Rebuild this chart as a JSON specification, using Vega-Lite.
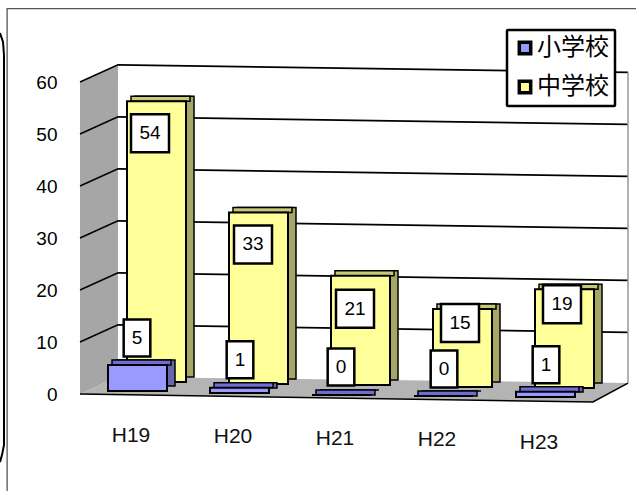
{
"$schema":"https://vega.github.io/schema/vega-lite/v6.json",
"width":636,"height":491,"padding":0,"autosize":{"type":"none"},
"background":"white",
"config":{"view":{"stroke":null},"font":"Liberation Sans"},
"datasets":{
"bars":[
{"period":"H19","series":"小学校","value":5},{"period":"H20","series":"小学校","value":1},{"period":"H21","series":"小学校","value":0},{"period":"H22","series":"小学校","value":0},{"period":"H23","series":"小学校","value":1},
{"period":"H19","series":"中学校","value":54},{"period":"H20","series":"中学校","value":33},{"period":"H21","series":"中学校","value":21},{"period":"H22","series":"中学校","value":15},{"period":"H23","series":"中学校","value":19}],
"wall":[{"u":0,"lo":0,"hi":60},{"u":6.93,"lo":3.27,"hi":63.3}],
"floor":[{"u":0,"lo":0,"hi":0},{"u":6.93,"lo":-0.14,"hi":3.27},{"u":93.6,"lo":-1.54,"hi":2.2},{"u":100,"lo":2.1,"hi":2.1}],
"grid":[
{"level":10,"u":0,"v":10},{"level":10,"u":6.93,"v":13.3},{"level":10,"u":100,"v":11.85},
{"level":20,"u":0,"v":20},{"level":20,"u":6.93,"v":23.3},{"level":20,"u":100,"v":21.85},
{"level":30,"u":0,"v":30},{"level":30,"u":6.93,"v":33.3},{"level":30,"u":100,"v":31.85},
{"level":40,"u":0,"v":40},{"level":40,"u":6.93,"v":43.3},{"level":40,"u":100,"v":41.85},
{"level":50,"u":0,"v":50},{"level":50,"u":6.93,"v":53.3},{"level":50,"u":100,"v":51.85},
{"level":60,"u":0,"v":60},{"level":60,"u":6.93,"v":63.3},{"level":60,"u":100,"v":61.85}],
"edge":[{"i":1,"u":0,"v":0},{"i":2,"u":93.6,"v":-1.54},{"i":3,"u":100,"v":2.1}],
"rightwall":[{"i":1,"u":100,"v":61.85},{"i":2,"u":100,"v":2.1}],
"frame":[{"i":1,"u":-13.3,"v":-18.65},{"i":2,"u":-13.3,"v":74.1},{"i":3,"u":101.5,"v":74.1}],
"curve":[{"i":1,"u":-14.6,"v":69.4},{"i":2,"u":-14.05,"v":67.7},{"i":3,"u":-13.87,"v":65.2},{"i":4,"u":-13.87,"v":-9.8},{"i":5,"u":-14.23,"v":-11.7},{"i":6,"u":-14.6,"v":-13.1}]
},
"layer":[
{"data":{"name":"wall"},"mark":{"type":"area","fill":"#a6a6a6"},
 "encoding":{"x":{"field":"u","type":"quantitative","axis":null,"scale":{"domain":[0,100],"range":[80,628],"nice":false,"zero":false}},
 "y":{"field":"lo","type":"quantitative","axis":null,"scale":{"domain":[0,60],"range":[394,82],"nice":false,"zero":false}},"y2":{"field":"hi"}}},
{"data":{"name":"floor"},"mark":{"type":"area","fill":"#b4b4b4"},
 "encoding":{"x":{"field":"u","type":"quantitative","axis":null,"scale":{"domain":[0,100],"range":[80,628],"nice":false,"zero":false}},
 "y":{"field":"lo","type":"quantitative","axis":null,"scale":{"domain":[0,60],"range":[394,82],"nice":false,"zero":false}},"y2":{"field":"hi"}}},
{"data":{"name":"grid"},"mark":{"type":"line","stroke":"black","strokeWidth":1.6},
 "encoding":{"x":{"field":"u","type":"quantitative","axis":null,"scale":{"domain":[0,100],"range":[80,628],"nice":false,"zero":false}},
 "y":{"field":"v","type":"quantitative","axis":null,"scale":{"domain":[0,60],"range":[394,82],"nice":false,"zero":false}},"detail":{"field":"level"}}},
{"data":{"name":"edge"},"mark":{"type":"line","stroke":"black","strokeWidth":1.6},
 "encoding":{"x":{"field":"u","type":"quantitative","axis":null,"scale":{"domain":[0,100],"range":[80,628],"nice":false,"zero":false}},
 "y":{"field":"v","type":"quantitative","axis":null,"scale":{"domain":[0,60],"range":[394,82],"nice":false,"zero":false}},"order":{"field":"i"}}},
{"data":{"name":"rightwall"},"mark":{"type":"line","stroke":"#999999","strokeWidth":1.5},
 "encoding":{"x":{"field":"u","type":"quantitative","axis":null,"scale":{"domain":[0,100],"range":[80,628],"nice":false,"zero":false}},
 "y":{"field":"v","type":"quantitative","axis":null,"scale":{"domain":[0,60],"range":[394,82],"nice":false,"zero":false}},"order":{"field":"i"}}},
{"data":{"name":"frame"},"mark":{"type":"line","stroke":"#555555","strokeWidth":1.3},
 "encoding":{"x":{"field":"u","type":"quantitative","axis":null,"scale":{"domain":[0,100],"range":[80,628],"nice":false,"zero":false}},
 "y":{"field":"v","type":"quantitative","axis":null,"scale":{"domain":[0,60],"range":[394,82],"nice":false,"zero":false}},"order":{"field":"i"}}},
{"data":{"name":"curve"},"mark":{"type":"line","stroke":"black","strokeWidth":2},
 "encoding":{"x":{"field":"u","type":"quantitative","axis":null,"scale":{"domain":[0,100],"range":[80,628],"nice":false,"zero":false}},
 "y":{"field":"v","type":"quantitative","axis":null,"scale":{"domain":[0,60],"range":[394,82],"nice":false,"zero":false}},"order":{"field":"i"}}},

{"data":{"name":"bars"},"transform":[{"filter":"datum.series=='中学校'"}],
 "mark":{"type":"bar","width":59,"xOffset":17.5,"fill":"#a6a666","stroke":"black","strokeWidth":1.5,
  "yOffset":{"expr":"[-12,-10,-9,-7,-6][indexof(['H19','H20','H21','H22','H23'],datum.period)]-5"},
  "y2Offset":{"expr":"[-12,-10,-9,-7,-6][indexof(['H19','H20','H21','H22','H23'],datum.period)]-5"}},
 "encoding":{"x":{"field":"period","type":"nominal","axis":null,"sort":null,"scale":{"type":"band","domain":["H19","H20","H21","H22","H23"],"range":[96,606],"padding":0}},
 "y":{"field":"value","type":"quantitative","stack":null,"scale":{"domain":[0,60],"range":[394,82],"nice":false,"zero":false},
  "axis":{"title":null,"domain":false,"ticks":false,"grid":false,"offset":-66,"labelPadding":9,"labelFontSize":19,"labelColor":"black","labelFont":"Liberation Sans","values":[0,10,20,30,40,50,60]}},"y2":{"datum":0}}},

{"data":{"name":"bars"},"transform":[{"filter":"datum.series=='中学校'"}],
 "mark":{"type":"bar","width":59,"xOffset":13.5,"fill":"#c8c87a","stroke":"black","strokeWidth":1.5,
  "yOffset":{"expr":"[-12,-10,-9,-7,-6][indexof(['H19','H20','H21','H22','H23'],datum.period)]-5"},
  "y2Offset":{"expr":"[-12,-10,-9,-7,-6][indexof(['H19','H20','H21','H22','H23'],datum.period)]"}},
 "encoding":{"x":{"field":"period","type":"nominal","axis":null,"sort":null,"scale":{"type":"band","domain":["H19","H20","H21","H22","H23"],"range":[96,606],"padding":0}},
 "y":{"field":"value","type":"quantitative","stack":null,"axis":null,"scale":{"domain":[0,60],"range":[394,82],"nice":false,"zero":false}},"y2":{"field":"value"}}},

{"data":{"name":"bars"},"transform":[{"filter":"datum.series=='中学校'"}],
 "mark":{"type":"bar","width":59,"xOffset":9.5,"stroke":"black","strokeWidth":2,
  "yOffset":{"expr":"[-12,-10,-9,-7,-6][indexof(['H19','H20','H21','H22','H23'],datum.period)]"},
  "y2Offset":{"expr":"[-12,-10,-9,-7,-6][indexof(['H19','H20','H21','H22','H23'],datum.period)]"}},
 "encoding":{"x":{"field":"period","type":"nominal","axis":null,"sort":null,"scale":{"type":"band","domain":["H19","H20","H21","H22","H23"],"range":[96,606],"padding":0}},
 "y":{"field":"value","type":"quantitative","stack":null,"axis":null,"scale":{"domain":[0,60],"range":[394,82],"nice":false,"zero":false}},"y2":{"datum":0},
 "color":{"field":"series","type":"nominal","scale":{"domain":["小学校","中学校"],"range":["#9999ff","#ffff99"]},
  "legend":{"title":null,"orient":"none","legendX":507,"legendY":30,"fillColor":"white","strokeColor":"black","padding":6,"symbolType":"square","symbolSize":130,"symbolStrokeColor":"black","symbolStrokeWidth":3.5,"labelFont":"Noto Sans CJK JP","labelFontSize":24,"labelColor":"black","rowPadding":13,"labelOffset":0,"cornerRadius":1,"symbolOpacity":1,"encode":{"legend":{"update":{"strokeWidth":{"value":2.5}}}}}}}},

{"data":{"name":"bars"},"transform":[{"filter":"datum.series=='小学校'"}],
 "mark":{"type":"bar","width":59,"xOffset":-1.5,"fill":"#6666aa","stroke":"black","strokeWidth":1.5,
  "yOffset":{"expr":"[-3,-1,1,2,3][indexof(['H19','H20','H21','H22','H23'],datum.period)]-5"},
  "y2Offset":{"expr":"[-3,-1,1,2,3][indexof(['H19','H20','H21','H22','H23'],datum.period)]-5"}},
 "encoding":{"x":{"field":"period","type":"nominal","axis":null,"sort":null,"scale":{"type":"band","domain":["H19","H20","H21","H22","H23"],"range":[96,606],"padding":0}},
 "y":{"field":"value","type":"quantitative","stack":null,"axis":null,"scale":{"domain":[0,60],"range":[394,82],"nice":false,"zero":false}},"y2":{"datum":0}}},

{"data":{"name":"bars"},"transform":[{"filter":"datum.series=='小学校'"}],
 "mark":{"type":"bar","width":59,"xOffset":-5.5,"fill":"#6e6ed2","stroke":"black","strokeWidth":1.5,
  "yOffset":{"expr":"[-3,-1,1,2,3][indexof(['H19','H20','H21','H22','H23'],datum.period)]-5"},
  "y2Offset":{"expr":"[-3,-1,1,2,3][indexof(['H19','H20','H21','H22','H23'],datum.period)]"}},
 "encoding":{"x":{"field":"period","type":"nominal","axis":null,"sort":null,"scale":{"type":"band","domain":["H19","H20","H21","H22","H23"],"range":[96,606],"padding":0}},
 "y":{"field":"value","type":"quantitative","stack":null,"axis":null,"scale":{"domain":[0,60],"range":[394,82],"nice":false,"zero":false}},"y2":{"field":"value"}}},

{"data":{"name":"bars"},"transform":[{"filter":"datum.series=='小学校'"}],
 "mark":{"type":"bar","width":59,"xOffset":-9.5,"stroke":"black","strokeWidth":2,
  "yOffset":{"expr":"[-3,-1,1,2,3][indexof(['H19','H20','H21','H22','H23'],datum.period)]"},
  "y2Offset":{"expr":"[-3,-1,1,2,3][indexof(['H19','H20','H21','H22','H23'],datum.period)]"}},
 "encoding":{"x":{"field":"period","type":"nominal","axis":null,"sort":null,"scale":{"type":"band","domain":["H19","H20","H21","H22","H23"],"range":[96,606],"padding":0}},
 "y":{"field":"value","type":"quantitative","stack":null,"axis":null,"scale":{"domain":[0,60],"range":[394,82],"nice":false,"zero":false}},"y2":{"datum":0},
 "color":{"field":"series","type":"nominal","scale":{"domain":["小学校","中学校"],"range":["#9999ff","#ffff99"]},
  "legend":{"title":null,"orient":"none","legendX":507,"legendY":30,"fillColor":"white","strokeColor":"black","padding":6,"symbolType":"square","symbolSize":130,"symbolStrokeColor":"black","symbolStrokeWidth":3.5,"labelFont":"Noto Sans CJK JP","labelFontSize":24,"labelColor":"black","rowPadding":13,"labelOffset":0,"cornerRadius":1,"symbolOpacity":1,"encode":{"legend":{"update":{"strokeWidth":{"value":2.5}}}}}}}},

{"data":{"name":"bars"},"transform":[{"filter":"datum.series=='中学校'"}],
 "mark":{"type":"point","filled":true,"opacity":1,"fill":"white","stroke":"black","strokeWidth":2.5,"size":1444,"shape":"M-1,-1H1V1H-1Z",
  "xOffset":{"expr":"[3,4,4,7,7][indexof(['H19','H20','H21','H22','H23'],datum.period)]"},
  "yOffset":{"expr":"[20,22,24,7,9][indexof(['H19','H20','H21','H22','H23'],datum.period)]"}},
 "encoding":{"x":{"field":"period","type":"nominal","axis":null,"sort":null,"scale":{"type":"band","domain":["H19","H20","H21","H22","H23"],"range":[96,606],"padding":0}},
 "y":{"field":"value","type":"quantitative","axis":null,"scale":{"domain":[0,60],"range":[394,82],"nice":false,"zero":false}}}},
{"data":{"name":"bars"},"transform":[{"filter":"datum.series=='中学校'"}],
 "mark":{"type":"text","fontSize":19,"font":"Liberation Sans","fill":"black","align":"center","baseline":"middle",
  "xOffset":{"expr":"[3,4,4,7,7][indexof(['H19','H20','H21','H22','H23'],datum.period)]"},
  "yOffset":{"expr":"[20,22,24,7,9][indexof(['H19','H20','H21','H22','H23'],datum.period)]"}},
 "encoding":{"x":{"field":"period","type":"nominal","axis":null,"sort":null,"scale":{"type":"band","domain":["H19","H20","H21","H22","H23"],"range":[96,606],"padding":0}},
 "y":{"field":"value","type":"quantitative","axis":null,"scale":{"domain":[0,60],"range":[394,82],"nice":false,"zero":false}},
 "text":{"field":"value","type":"quantitative"}}},
{"data":{"name":"bars"},"transform":[{"filter":"datum.series=='小学校'"}],
 "mark":{"type":"point","filled":true,"opacity":1,"fill":"white","stroke":"black","strokeWidth":2.5,"size":1369,"shape":"M-.72,-1H.72V1H-.72Z",
  "xOffset":{"expr":"[-10,-9,-10,-9,-9][indexof(['H19','H20','H21','H22','H23'],datum.period)]"},
  "yOffset":{"expr":"[-30,-29,-27,-25,-24][indexof(['H19','H20','H21','H22','H23'],datum.period)]"}},
 "encoding":{"x":{"field":"period","type":"nominal","axis":null,"sort":null,"scale":{"type":"band","domain":["H19","H20","H21","H22","H23"],"range":[96,606],"padding":0}},
 "y":{"field":"value","type":"quantitative","axis":null,"scale":{"domain":[0,60],"range":[394,82],"nice":false,"zero":false}}}},
{"data":{"name":"bars"},"transform":[{"filter":"datum.series=='小学校'"}],
 "mark":{"type":"text","fontSize":19,"font":"Liberation Sans","fill":"black","align":"center","baseline":"middle",
  "xOffset":{"expr":"[-10,-9,-10,-9,-9][indexof(['H19','H20','H21','H22','H23'],datum.period)]"},
  "yOffset":{"expr":"[-30,-29,-27,-25,-24][indexof(['H19','H20','H21','H22','H23'],datum.period)]"}},
 "encoding":{"x":{"field":"period","type":"nominal","axis":null,"sort":null,"scale":{"type":"band","domain":["H19","H20","H21","H22","H23"],"range":[96,606],"padding":0}},
 "y":{"field":"value","type":"quantitative","axis":null,"scale":{"domain":[0,60],"range":[394,82],"nice":false,"zero":false}},
 "text":{"field":"value","type":"quantitative"}}},
{"data":{"name":"bars"},"transform":[{"filter":"datum.series=='中学校'"}],
 "mark":{"type":"text","fontSize":21,"font":"Liberation Sans","fill":"#111111","align":"center","baseline":"middle","xOffset":-16,
  "yOffset":{"expr":"[436,437,439,440,443][indexof(['H19','H20','H21','H22','H23'],datum.period)]-394"}},
 "encoding":{"x":{"field":"period","type":"nominal","axis":null,"sort":null,"scale":{"type":"band","domain":["H19","H20","H21","H22","H23"],"range":[96,606],"padding":0}},
 "y":{"datum":0,"type":"quantitative","axis":null,"scale":{"domain":[0,60],"range":[394,82],"nice":false,"zero":false}},
 "text":{"field":"period","type":"nominal"}}}
],
"resolve":{"scale":{"x":"independent","y":"independent"},"axis":{"x":"independent","y":"independent"}}
}
